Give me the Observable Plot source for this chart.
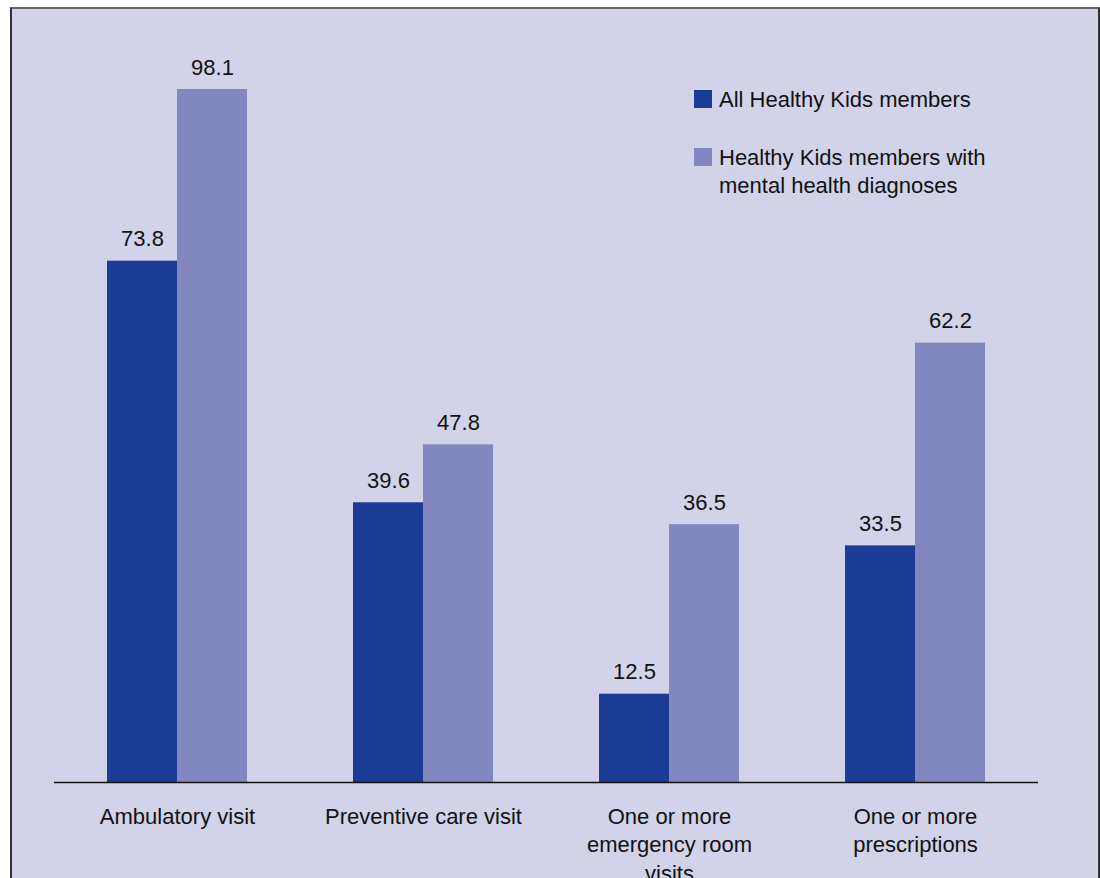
<!DOCTYPE html>
<html>
<head>
<meta charset="utf-8">
<script src="https://cdn.jsdelivr.net/npm/d3@7"></script>
<script src="https://cdn.jsdelivr.net/npm/@observablehq/plot@0.6"></script>
<style>
  html, body { margin: 0; padding: 0; background: #ffffff; width: 1100px; height: 878px; overflow: hidden; }
  #frame { position: absolute; left: 10px; top: 7px; width: 1086px; height: 900px;
           background: #d2d3e9; border-left: 2px solid #333; border-top: 2px solid #666; border-right: 2px solid #333; }
  #chart { position: absolute; left: 0; top: 0; }
  #legend { position: absolute; left: 694px; top: 86px; font-family: "Liberation Sans", Arial, sans-serif;
            font-size: 22px; color: #111; line-height: 28px; }
  .item { display: flex; align-items: flex-start; }
  .sw { width: 18px; height: 18px; margin-right: 7px; margin-top: 4px; flex: none; }
</style>
</head>
<body>
<div id="frame"></div>
<div id="chart"></div>
<div id="legend"></div>
<script>
const categories = ["Ambulatory visit", "Preventive care visit", "One or more emergency room visits", "One or more prescriptions"];
const categoryLabels = ["Ambulatory visit", "Preventive care visit", "One or more\nemergency room\nvisits", "One or more\nprescriptions"];
const series = ["All Healthy Kids members", "Healthy Kids members with mental health diagnoses"];
const seriesLabels = ["All Healthy Kids members", "Healthy Kids members with<br>mental health diagnoses"];
const allMembers = [73.8, 39.6, 12.5, 33.5];
const mentalHealth = [98.1, 47.8, 36.5, 62.2];
const colors = ["#1c3b94", "#8287bf"];

const data = [];
categories.forEach((c, i) => {
  data.push({category: c, series: series[0], value: allMembers[i]});
  data.push({category: c, series: series[1], value: mentalHealth[i]});
});

const labelMap = new Map(categories.map((c, i) => [c, categoryLabels[i]]));

const chart = Plot.plot({
  width: 1100,
  height: 878,
  marginLeft: 54,
  marginRight: 62,
  marginTop: 75.6,
  marginBottom: 96,
  style: {background: "transparent", fontFamily: "'Liberation Sans', Arial, sans-serif", fontSize: "22px", color: "#111"},
  fx: {domain: categories, padding: 0, label: null},
  x: {domain: series, paddingInner: 0, paddingOuter: 0.745, axis: null},
  y: {domain: [0, 100], axis: null},
  color: {domain: series, range: colors},
  marks: [
    Plot.barY(data, {fx: "category", x: "series", y: "value", fill: "series", inset: 0}),
    Plot.text(data, {fx: "category", x: "series", y: "value", text: d => d.value.toFixed(1),
                     dy: -22, fontSize: 22, fill: "#111"}),
    Plot.ruleY([0], {stroke: "#111", strokeWidth: 1.5}),
    Plot.axisFx({anchor: "bottom", label: null, tickSize: 0, tickPadding: 21, fontSize: 22,
                 lineHeight: 1.3, fill: "#111", tickFormat: d => labelMap.get(d)})
  ]
});
document.getElementById("chart").appendChild(chart);

const legend = document.getElementById("legend");
series.forEach((s, i) => {
  const item = document.createElement("div");
  item.className = "item";
  item.style.marginBottom = i === 0 ? "30px" : "0";
  item.innerHTML = `<div class="sw" style="background:${colors[i]}"></div><div>${seriesLabels[i]}</div>`;
  legend.appendChild(item);
});
</script>
</body>
</html>
